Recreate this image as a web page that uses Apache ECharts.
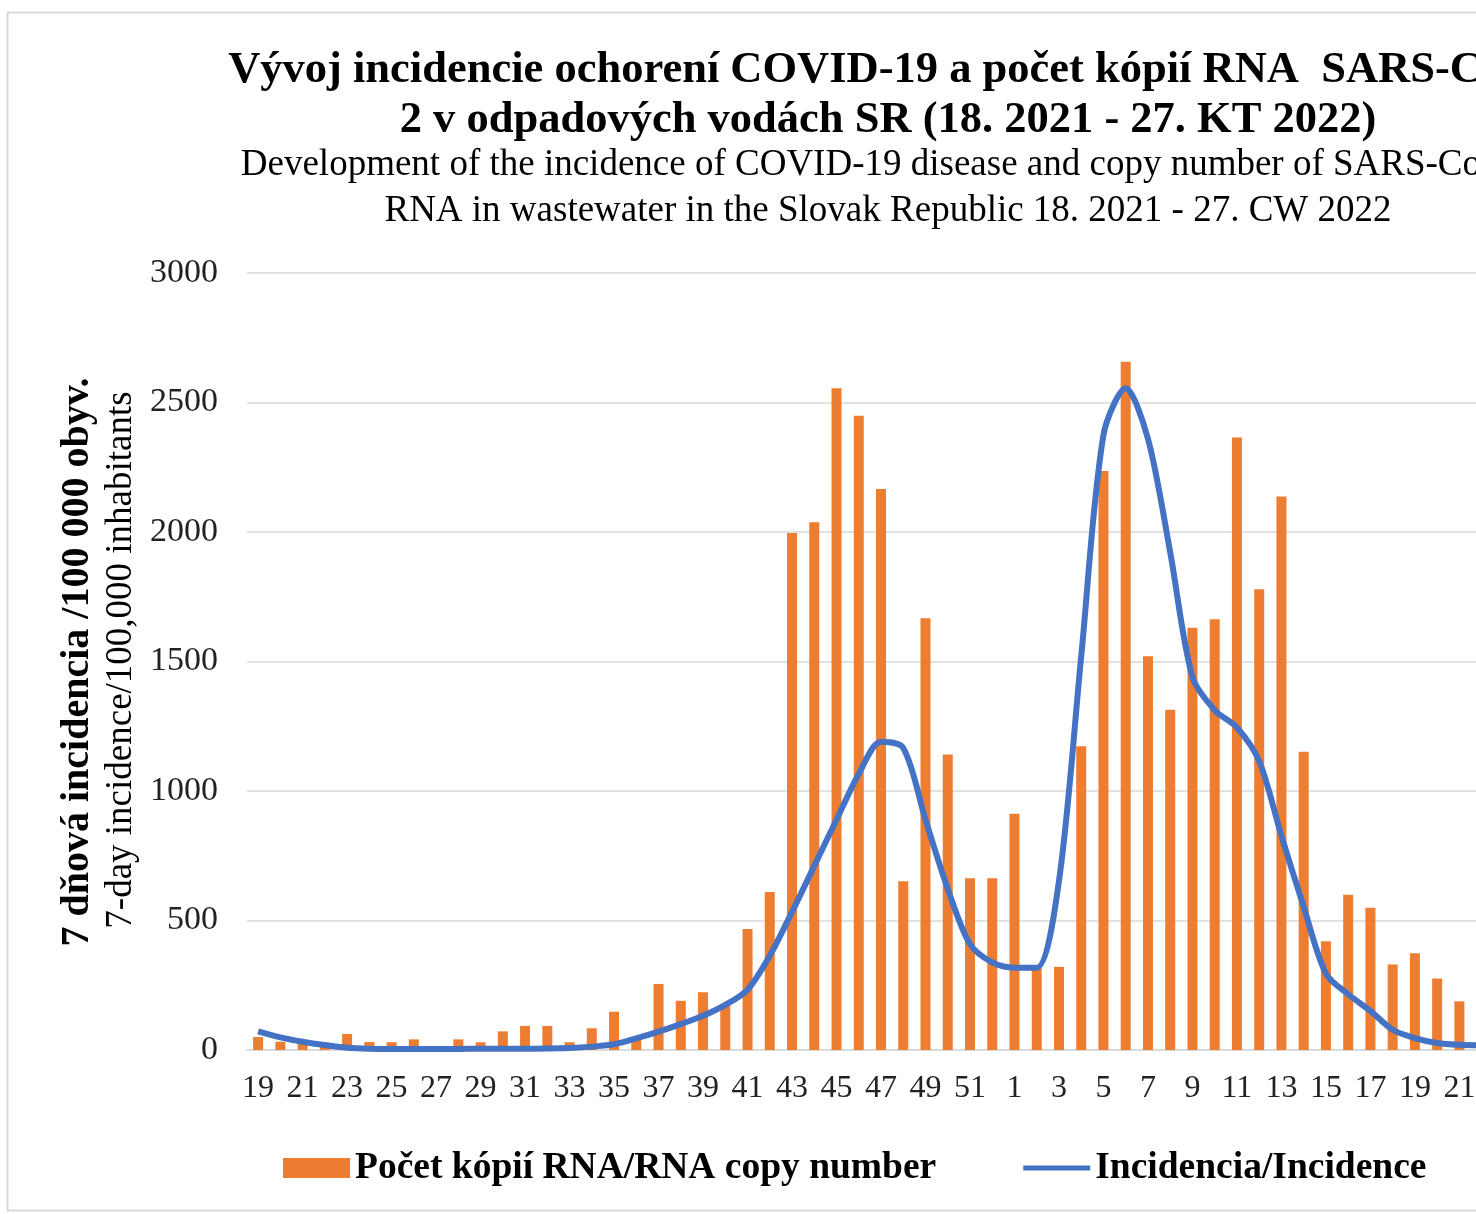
<!DOCTYPE html>
<html>
<head>
<meta charset="utf-8">
<script src="https://cdn.jsdelivr.net/npm/echarts@6/dist/echarts.min.js"></script>
<style>
html,body{margin:0;padding:0;background:#fff;overflow:hidden;width:1476px;height:1214px;}
#chart{position:absolute;left:0;top:0;width:1776px;height:1214px;}
</style>
</head>
<body>
<div id="chart"></div>
<script>
// Calendar weeks: 19.-52. week 2021, then 1.-27. week 2022
const weeks = ['19','20','21','22','23','24','25','26','27','28','29','30','31','32','33','34','35','36','37','38','39','40','41','42','43','44','45','46','47','48','49','50','51','52',
  '1','2','3','4','5','6','7','8','9','10','11','12','13','14','15','16','17','18','19','20','21','22','23','24','25','26','27'];

// Počet kópií RNA / RNA copy number (bars)
const rnaCopies = [50,32,23,20,62,31,30,41,0,41,30,72,93,93,30,84,148,45,255,190,223,172,467,610,1996,2038,2555,2449,2166,652,1667,1141,663,663,
  912,316,321,1173,2236,2657,1520,1314,1630,1663,2365,1779,2137,1152,420,599,549,330,374,276,188,140,null,null,null,null,null];

// Incidencia / Incidence (line)
const incidence = [72,49,32,19,9,5,4,4,4,4,5,5,5,6,8,13,22,45,71,100,132,174,233,364,533,711,889,1066,1190,1166,889,622,409,338,
  318,318,653,1520,2375,2555,2360,1922,1440,1312,1245,1115,827,553,295,215,151,78,46,27,20,18,null,null,null,null,null];

const yTicks = [0, 500, 1000, 1500, 2000, 2500, 3000];

const titleText = 'Vývoj incidencie ochorení COVID-19 a počet kópií RNA  SARS-CoV-\n2 v odpadových vodách SR (18. 2021 - 27. KT 2022)';
const subtitleText = 'Development of the incidence of COVID-19 disease and copy number of SARS-CoV-2\nRNA in wastewater in the Slovak Republic 18. 2021 - 27. CW 2022';
const yNameSk = '7 dňová incidencia /100 000 obyv.';
const yNameEn = '7-day incidence/100,000 inhabitants';
const seriesNames = ['Počet kópií RNA/RNA copy number', 'Incidencia/Incidence'];

const FONT = '"Liberation Serif", "Times New Roman", serif';
const chart = echarts.init(document.getElementById('chart'), null, {renderer: 'canvas'});

chart.setOption({
  backgroundColor: '#ffffff',
  animation: false,
  title: {
    text: titleText,
    subtext: subtitleText,
    left: 'center',
    top: 40,
    itemGap: -3,
    textStyle: {fontFamily: FONT, fontSize: 44.5, fontWeight: 'bold', color: '#000', lineHeight: 50},
    subtextStyle: {fontFamily: FONT, fontSize: 37, color: '#000', lineHeight: 46}
  },
  legend: {
    left: 278,
    top: 1144,
    itemGap: 87,
    itemWidth: 67,
    itemHeight: 20,
    textStyle: {fontFamily: FONT, fontSize: 37.5, fontWeight: 'bold', color: '#000'},
    data: [
      {name: seriesNames[0], icon: 'rect'},
      {name: seriesNames[1], icon: 'path://M0,0 L78,0 L78,6 L0,6 Z', itemStyle: {color: '#4472C4'}}
    ]
  },
  grid: {left: 247, right: 172, top: 273, bottom: 164, containLabel: false},
  xAxis: {
    type: 'category',
    data: weeks,
    boundaryGap: true,
    axisLine: {lineStyle: {color: '#d9d9d9', width: 1.5}},
    axisTick: {show: false},
    axisLabel: {interval: 1, fontFamily: FONT, fontSize: 32, color: '#222', margin: 23}
  },
  yAxis: {
    type: 'value',
    min: yTicks[0],
    max: yTicks[yTicks.length - 1],
    interval: 500,
    axisLine: {show: false},
    axisTick: {show: false},
    splitLine: {lineStyle: {color: '#d9d9d9', width: 1.5}},
    axisLabel: {fontFamily: FONT, fontSize: 34, color: '#222', margin: 29, formatter: function (v) { return String(v); }}
  },
  series: [
    {
      name: seriesNames[0],
      type: 'bar',
      data: rnaCopies,
      barWidth: 10,
      itemStyle: {color: '#ED7D31'}
    },
    {
      name: seriesNames[1],
      type: 'line',
      data: incidence,
      smooth: 0.3,
      symbol: 'none',
      lineStyle: {color: '#4472C4', width: 6},
      itemStyle: {color: '#4472C4'}
    }
  ],
  graphic: [
    {type: 'rect', left: 5, top: 10, shape: {width: 1760, height: 1198}, style: {fill: 'none', stroke: '#d9d9d9', lineWidth: 2}, silent: true, z: -10},
    {type: 'text', x: 78, y: 662, rotation: Math.PI / 2,
      style: {text: yNameSk, font: 'bold 40px ' + FONT, fill: '#000', textAlign: 'center', textVerticalAlign: 'middle'}},
    {type: 'text', x: 121, y: 660, rotation: Math.PI / 2,
      style: {text: yNameEn, font: '37px ' + FONT, fill: '#000', textAlign: 'center', textVerticalAlign: 'middle'}}
  ]
});
</script>
</body>
</html>
